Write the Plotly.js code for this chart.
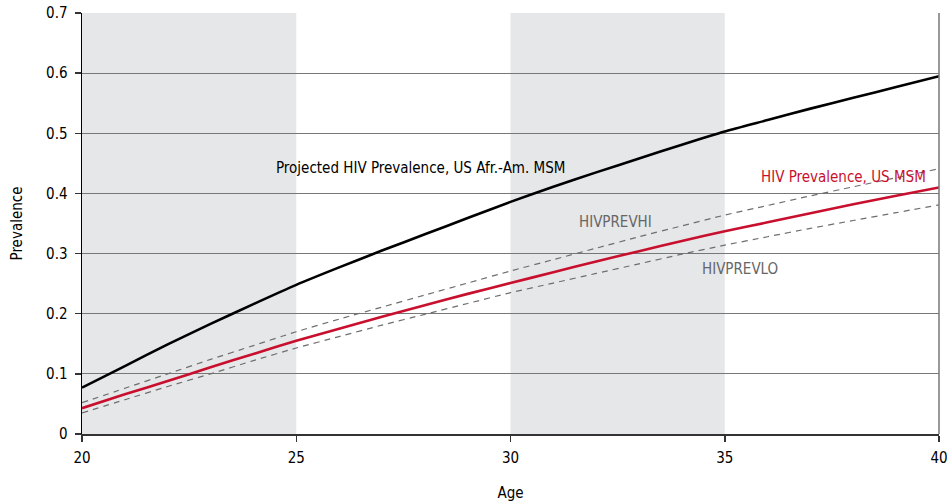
<!DOCTYPE html>
<html><head><meta charset="utf-8">
<script src="https://cdn.plot.ly/plotly-3.0.1.min.js"></script>
<style>html,body{margin:0;padding:0;background:#fff}#chart{width:948px;height:502px}</style>
</head><body><div id="chart"></div>
<script>
const ages = [20, 21, 22, 23, 24, 25, 26, 27, 28, 29, 30, 31, 32, 33, 34, 35, 36, 37, 38, 39, 40];
const projAfrAm = [0.077, 0.113, 0.149, 0.183, 0.216, 0.248, 0.277, 0.305, 0.332, 0.359, 0.386, 0.411, 0.435, 0.458, 0.481, 0.503, 0.522, 0.541, 0.559, 0.577, 0.595];
const prevMSM   = [0.043, 0.066, 0.088, 0.111, 0.133, 0.155, 0.175, 0.195, 0.214, 0.233, 0.251, 0.269, 0.287, 0.304, 0.321, 0.337, 0.352, 0.367, 0.382, 0.396, 0.410];
const prevHI    = [0.052, 0.076, 0.100, 0.124, 0.147, 0.170, 0.191, 0.211, 0.231, 0.251, 0.271, 0.290, 0.309, 0.328, 0.346, 0.364, 0.380, 0.396, 0.411, 0.426, 0.441];
const prevLO    = [0.035, 0.057, 0.079, 0.100, 0.122, 0.143, 0.162, 0.181, 0.199, 0.217, 0.235, 0.251, 0.267, 0.283, 0.299, 0.314, 0.328, 0.342, 0.355, 0.368, 0.381];
const shadeBands = [[20, 25], [30, 35]];
const labels = [
  {text: 'Projected HIV Prevalence, US Afr.-Am. MSM', x: 27.9, y: 0.443, color: '#000000'},
  {text: 'HIV Prevalence, US MSM', x: 37.78, y: 0.428, color: '#c8102e'},
  {text: 'HIVPREVHI', x: 32.46, y: 0.353, color: '#666666'},
  {text: 'HIVPREVLO', x: 35.36, y: 0.275, color: '#666666'}
];
const yTicks = [0, 0.1, 0.2, 0.3, 0.4, 0.5, 0.6, 0.7];
const yTickText = ['0', '0.1', '0.2', '0.3', '0.4', '0.5', '0.6', '0.7'];
const xTicks = [20, 25, 30, 35, 40];

const FONT = '"Liberation Sans Narrow", "DejaVu Sans Condensed", "Roboto Condensed", Arial, sans-serif';

const traces = [
  {x: ages, y: prevHI, mode: 'lines', line: {color: '#6e6e6e', width: 1.2, dash: '6px,5px', shape: 'spline', smoothing: 0.6}, hoverinfo: 'skip'},
  {x: ages, y: prevLO, mode: 'lines', line: {color: '#6e6e6e', width: 1.2, dash: '6px,5px', shape: 'spline', smoothing: 0.6}, hoverinfo: 'skip'},
  {x: ages, y: prevMSM, mode: 'lines', line: {color: '#c8102e', width: 2.6, shape: 'spline', smoothing: 0.6}},
  {x: ages, y: projAfrAm, mode: 'lines', line: {color: '#000000', width: 2.6, shape: 'spline', smoothing: 0.6}}
];

const shapes = shadeBands.map(b => ({
  type: 'rect', xref: 'x', yref: 'paper', x0: b[0], x1: b[1], y0: 0, y1: 1,
  fillcolor: '#e6e7e9', line: {width: 0}, layer: 'below'
}));
shapes.push({type: 'line', xref: 'paper', yref: 'paper', x0: 1, x1: 1, y0: 0, y1: 1, line: {color: '#777777', width: 1.5}});

const annotations = labels.map(l => ({
  text: l.text, x: l.x, y: l.y, xref: 'x', yref: 'y', showarrow: false,
  font: {family: FONT, size: 15, color: l.color}
}));

const layout = {
  width: 948, height: 502,
  margin: {l: 82, r: 9, t: 13, b: 68},
  paper_bgcolor: '#ffffff', plot_bgcolor: '#ffffff',
  showlegend: false,
  font: {family: FONT, size: 15, color: '#000'},
  xaxis: {
    range: [20, 40], tickvals: xTicks, ticktext: xTicks.map(String),
    showgrid: false, zeroline: false, showline: true, linecolor: '#333333', linewidth: 1.5,
    ticks: 'outside', ticklen: 6, tickcolor: '#333333', tickwidth: 1.5, ticklabelstandoff: 3,
    tickfont: {family: FONT, size: 15, color: '#000'},
    title: {text: 'Age', font: {family: FONT, size: 15, color: '#000'}, standoff: 24}
  },
  yaxis: {
    range: [0, 0.7], tickvals: yTicks, ticktext: yTickText,
    showgrid: true, gridcolor: '#777777', gridwidth: 1,
    zeroline: false, showline: true, linecolor: '#000000', linewidth: 1.5,
    ticks: 'outside', ticklen: 6, tickcolor: '#333333', tickwidth: 1.5, ticklabelstandoff: 4,
    tickfont: {family: FONT, size: 15, color: '#000'},
    title: {text: 'Prevalence', font: {family: FONT, size: 15, color: '#000'}, standoff: 20}
  },
  shapes: shapes,
  annotations: annotations
};

Plotly.newPlot('chart', traces, layout, {displayModeBar: false, staticPlot: true});
</script>
</body></html>
